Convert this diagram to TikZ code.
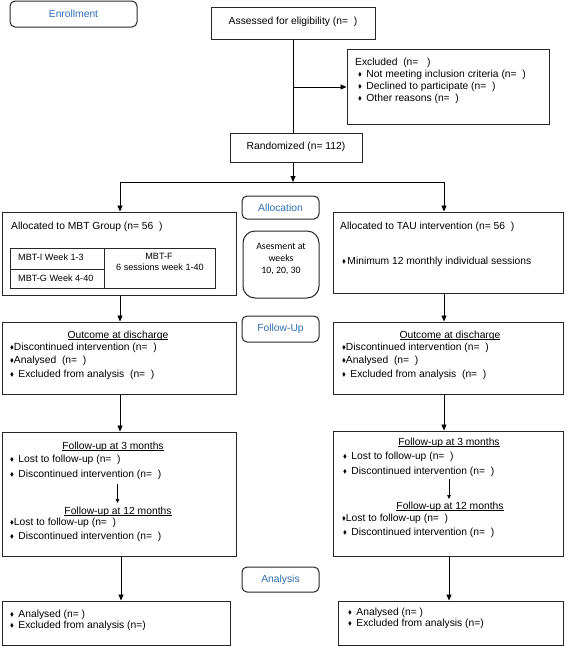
\documentclass[tikz,border=0pt]{standalone}
\usepackage{fontspec}
\setmainfont{Liberation Sans}
\newfontfamily\calib{Carlito}
\usepackage{amssymb}
\usetikzlibrary{arrows.meta}
\definecolor{labblue}{HTML}{2F6EB5}
\newcommand\bul{\raisebox{1.2pt}{\scalebox{0.55}{$\blacklozenge$}}}
\newcommand\ulin[1]{\setbox0\hbox{#1}\rlap{\rule[-1.4pt]{\wd0}{0.6pt}}\box0}
\tikzset{
  box/.style={draw=black!85, line width=1pt, inner sep=0pt},
  rbox/.style={draw=black!85, line width=1pt, inner sep=0pt, rounded corners=5pt,
    text=labblue, font=\fontsize{10.3}{12}\selectfont},
  txt/.style={anchor=west, inner sep=0pt, text height=7.4pt, text depth=2.2pt,
    font=\fontsize{10.3}{12}\selectfont},
  ctxt/.style={anchor=center, inner sep=0pt, text height=7.4pt, text depth=2.2pt,
    font=\fontsize{10.3}{12}\selectfont},
  stxt/.style={anchor=west, inner sep=0pt, text height=6.6pt, text depth=2pt,
    font=\fontsize{9.1}{11}\selectfont},
  sctxt/.style={anchor=center, inner sep=0pt, text height=6.6pt, text depth=2pt,
    font=\fontsize{9.1}{11}\selectfont},
  atxt/.style={anchor=center, inner sep=0pt, text height=6.6pt, text depth=2pt,
    font=\calib\fontsize{9.8}{11}\selectfont},
  arr/.style={-{Triangle[length=6pt,width=5pt]}, line width=0.9pt},
  ln/.style={line width=0.9pt}
}
\begin{document}
\begin{tikzpicture}[x=1pt,y=-1pt]
\useasboundingbox (0,0) rectangle (567,646);

% ---- side labels
\node[rbox, minimum width=127pt, minimum height=26pt] (enroll) at (73.5,14) {Enrollment};
\node[rbox, minimum width=77pt, minimum height=23pt] (alloc) at (280.5,207.5) {Allocation};
\node[box, rounded corners=12pt, minimum width=76pt, minimum height=67pt] (asm) at (281,264.5) {};
\node[atxt] (asm1) at (281,247) {Asesment at};
\node[atxt] (asm2) at (281,259) {weeks};
\node[atxt] (asm3) at (281,271) {10, 20, 30};
\node[rbox, minimum width=77pt, minimum height=26pt] (fup) at (280.5,329) {Follow-Up};
\node[rbox, minimum width=77pt, minimum height=25pt] (ana) at (280.5,579.5) {Analysis};

% ---- enrollment
\node[box, minimum width=164pt, minimum height=32pt] (assess) at (293,23) {};
\node[ctxt] (assesst) at (293,22) {Assessed for eligibility (n=\ \ )};
\node[box, minimum width=202pt, minimum height=75pt] (excl) at (448,86.5) {};
\node[txt] (ex0) at (355,63) {Excluded\ \ (n=\ \ \ )};
\node[txt] (ex1) at (358,75) {\bul\hspace{4.5pt}Not meeting inclusion criteria (n=\ \ )};
\node[txt] (ex2) at (358,87) {\bul\hspace{4.5pt}Declined to participate (n=\ \ )};
\node[txt] (ex3) at (358,99) {\bul\hspace{4.5pt}Other reasons (n=\ \ )};
\node[box, minimum width=132pt, minimum height=29pt] (rand) at (296,147.5) {};
\node[ctxt] (randt) at (296,147) {Randomized (n= 112)};

% ---- allocation
\node[box, minimum width=234pt, minimum height=83pt] (mbt) at (119,253.5) {};
\node[txt] (mbtt) at (11,227) {Allocated to MBT Group (n= 56\ \ )};
\draw[line width=1pt, black!85] (10,248) rectangle (215,288);
\draw[line width=1pt, black!85] (104,248) -- (104,288);
\draw[line width=1pt, black!85] (10,269) -- (104,269);
\node[stxt] (tb1) at (18,258) {MBT-I Week 1-3};
\node[stxt] (tb2) at (18,279) {MBT-G Week 4-40};
\node[sctxt] (tb3) at (159,257) {MBT-F};
\node[sctxt] (tb4) at (160,268) {6 sessions week 1-40};

\node[box, minimum width=230pt, minimum height=81pt] (tau) at (448,252.5) {};
\node[txt] (taut) at (340,227) {Allocated to TAU intervention (n= 56\ \ )};
\node[txt] (tau1) at (342,262) {\bul\hspace{1.5pt}Minimum 12 monthly individual sessions};

% ---- outcome at discharge
\node[box, minimum width=234pt, minimum height=72pt] (outL) at (119,358) {};
\node[ctxt] (oLt) at (118,336) {\ulin{Outcome at discharge}};
\node[txt] (oL1) at (10,348) {\bul Discontinued intervention (n=\ \ )};
\node[txt] (oL2) at (10,361) {\bul Analysed\ \ (n=\ \ )};
\node[txt] (oL3) at (10,375) {\bul\hspace{4.5pt}Excluded from analysis\ \ (n=\ \ )};

\node[box, minimum width=230pt, minimum height=72pt] (outR) at (448,358) {};
\node[ctxt] (oRt) at (450,336) {\ulin{Outcome at discharge}};
\node[txt] (oR1) at (342,348) {\bul Discontinued intervention (n=\ \ )};
\node[txt] (oR2) at (342,361) {\bul Analysed\ \ (n=\ \ )};
\node[txt] (oR3) at (342,375) {\bul\hspace{4.5pt}Excluded from analysis\ \ (n=\ \ )};

% ---- follow-up boxes
\node[box, minimum width=234pt, minimum height=124pt] (fuL) at (119,494) {};
\node[ctxt] (fL0) at (113,447) {\ulin{Follow-up at 3 months}};
\node[txt] (fL1) at (10,460) {\bul\hspace{4.5pt}Lost to follow-up (n=\ \ )};
\node[txt] (fL2) at (10,475) {\bul\hspace{4.5pt}Discontinued intervention (n=\ \ )};
\node[ctxt] (fL3) at (118,512) {\ulin{Follow-up at 12 months}};
\node[txt] (fL4) at (10,523) {\bul Lost to follow-up (n=\ \ )};
\node[txt] (fL5) at (10,537) {\bul\hspace{4.5pt}Discontinued intervention (n=\ \ )};
\coordinate (iLa) at (117.5,484);
\coordinate (iLb) at (117.5,503);
\draw[-{Triangle[length=4pt,width=3.5pt]}, line width=0.7pt] (iLa) -- (iLb);

\node[box, minimum width=230pt, minimum height=125pt] (fuR) at (448,493.5) {};
\node[ctxt] (fR0) at (449,443) {\ulin{Follow-up at 3 months}};
\node[txt] (fR1) at (343,457) {\bul\hspace{4.5pt}Lost to follow-up (n=\ \ )};
\node[txt] (fR2) at (343,472) {\bul\hspace{4.5pt}Discontinued intervention (n=\ \ )};
\node[ctxt] (fR3) at (450,507) {\ulin{Follow-up at 12 months}};
\node[txt] (fR4) at (342,519) {\bul Lost to follow-up (n=\ \ )};
\node[txt] (fR5) at (343,533) {\bul\hspace{4.5pt}Discontinued intervention (n=\ \ )};
\coordinate (iRa) at (449,479);
\coordinate (iRb) at (449,499);
\draw[-{Triangle[length=4pt,width=3.5pt]}, line width=0.7pt] (iRa) -- (iRb);

% ---- analysis boxes
\node[box, minimum width=228pt, minimum height=44pt] (botL) at (116,623) {};
\node[txt] (bL1) at (10,615) {\bul\hspace{4.5pt}Analysed (n= )};
\node[txt] (bL2) at (10,626) {\bul\hspace{4.5pt}Excluded from analysis (n=)};
\node[box, minimum width=225pt, minimum height=44pt] (botR) at (450.5,623) {};
\node[txt] (bR1) at (348,613) {\bul\hspace{4.5pt}Analysed (n= )};
\node[txt] (bR2) at (348,624) {\bul\hspace{4.5pt}Excluded from analysis (n=)};

% ---- connectors
\draw[ln] (assess.south) -- (assess.south |- rand.north);
\coordinate (b1) at (293,87);
\draw[arr] (b1) -- (b1 -| excl.west);
\coordinate (sp) at (293,182);
\draw[arr] (sp |- rand.south) -- (sp);
\coordinate (spL) at (120,182);
\coordinate (spR) at (444,182);
\draw[ln] (spL) -- (spR);
\draw[arr] (spL) -- (spL |- mbt.north);
\draw[arr] (spR) -- (spR |- tau.north);
\draw[arr] (spL |- mbt.south) -- (spL |- outL.north);
\draw[arr] (spR |- tau.south) -- (spR |- outR.north);
\draw[arr] (spL |- outL.south) -- (spL |- fuL.north);
\draw[arr] (spR |- outR.south) -- (spR |- fuR.north);
\coordinate (dL) at (121,560);
\coordinate (dR) at (449,560);
\draw[arr] (dL |- fuL.south) -- (dL |- botL.north);
\draw[arr] (dR |- fuR.south) -- (dR |- botR.north);
\end{tikzpicture}
\end{document}
